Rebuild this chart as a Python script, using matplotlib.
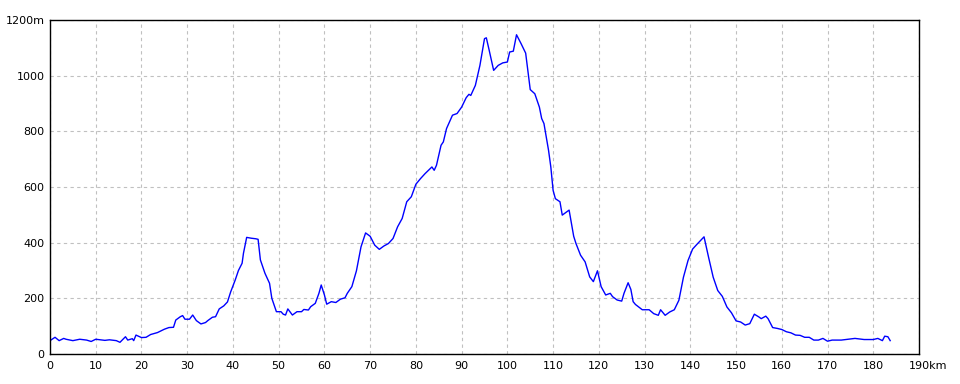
#!/usr/bin/env python3
# Elevation profile along the route (distance km vs altitude m)
import matplotlib
matplotlib.use("Agg")
import matplotlib.pyplot as plt
import matplotlib.transforms as mtransforms

# ----------------------- Data -----------------------
dist_km = [
    0, 1.1, 2, 3, 3.5, 5, 6.5, 8, 9, 10, 12, 13, 14.5, 15.3, 16.5, 17, 18, 18.3, 18.8,
    20, 21, 22, 23.5, 25, 26, 27, 27.5, 28.5, 29, 29.5, 30.5, 31.2, 32, 33, 34, 34.5,
    35.5, 36.2, 37, 38, 38.8, 39.5, 40.5, 41.2, 42, 42.3, 43, 44, 45, 45.5, 46, 47, 48,
    48.5, 49.5, 50.5, 51, 51.5, 52, 53, 54, 55, 55.5, 56.5, 57, 58, 58.8, 59.3,
    60, 60.5, 61.5, 62.5, 63.5, 64.5, 65, 66, 67, 68, 69, 70, 71, 72, 73, 74, 75, 76,
    77, 78, 79, 80, 81, 82, 83.5, 84, 84.5, 85.5, 86, 86.7, 88, 89, 90, 91, 91.6, 92,
    93, 94, 95, 95.4, 96, 97, 98, 99, 100, 100.5, 101.3, 102, 103, 104, 105, 106, 107,
    107.5, 108, 109, 109.5, 110, 110.5, 111.5, 112, 113, 113.5, 114.5, 115, 116, 117,
    118, 118.8, 119.7, 120.5, 121.5, 122.5, 123, 124, 125, 125.5, 126.4, 127, 127.5,
    128, 129.5, 131, 132, 133, 133.5, 134.5, 135.5, 136.5, 137.5, 138.5, 139.5, 140.5,
    141.5, 143, 144, 145, 146, 147, 148, 149, 150, 151, 152, 153, 154, 155, 155.5,
    156.5, 157, 158, 159, 160, 161, 162, 163, 164, 165, 166, 167, 168, 169, 170, 171,
    173, 174, 176, 178, 180, 181, 182, 182.5, 183.2, 183.7,
]
elev_m = [
    48, 60, 48, 56, 53, 48, 53, 50, 45, 53, 49, 51, 48, 42, 62, 50, 55, 48, 68,
    59, 60, 70, 77, 89, 95, 96, 122, 134, 138, 125, 125, 140, 120, 108, 113, 120,
    132, 134, 162, 173, 187, 223, 266, 300, 326, 362, 419, 416, 414, 412, 338, 290, 254,
    200, 152, 152, 143, 140, 162, 140, 152, 152, 160, 158, 170, 182, 218, 248,
    212, 179, 188, 185, 197, 202, 218, 242, 299, 385, 435, 423, 391, 376, 388, 397, 415, 457,
    487, 547, 565, 610, 630, 648, 672, 660, 678, 750, 762, 810, 858, 864, 887, 921, 933, 929,
    965, 1037, 1133, 1136, 1093, 1019, 1037, 1046, 1049, 1085, 1088, 1147, 1115, 1081, 950, 935, 887,
    846, 828, 732, 672, 588, 558, 547, 499, 511, 517, 423, 397, 355, 331,
    277, 260, 299, 242, 212, 218, 206, 194, 190, 218, 256, 232, 188,
    178, 159, 159, 145, 139, 159, 139, 151, 159, 193, 276, 336, 377,
    395, 421, 347, 276, 228, 207, 169, 148, 119, 115, 104, 109, 143, 133, 127,
    136, 127, 95, 92, 88, 80, 76, 68, 67, 60, 60, 50, 50, 56, 46, 50,
    50, 52, 56, 52, 52, 56, 48, 64, 62, 48,
]

x_ticks = list(range(0, 200, 10))
x_labels = [str(v) for v in x_ticks[:-1]] + ["190km"]
y_ticks = list(range(0, 1400, 200))
y_labels = [str(v) for v in y_ticks[:-1]] + ["1200m"]

# ----------------------- Plot -----------------------
fig = plt.figure(figsize=(9.6, 3.84), dpi=100)
ax = fig.add_axes([50 / 960, 30 / 384, 869 / 960, 334 / 384])

ax.plot(dist_km, elev_m, color="#0000ff", linewidth=1.0)

ax.set_xlim(0, 190)
ax.set_ylim(0, 1200)
ax.set_xticks(x_ticks)
ax.set_xticklabels(x_labels)
ax.set_yticks(y_ticks)
ax.set_yticklabels(y_labels)
ax.tick_params(length=0, labelsize=8)
ax.tick_params(axis="y", pad=4)
ax.tick_params(axis="x", pad=5)

# the unit on the last x label hangs to the right of the tick, number stays centred
last = ax.get_xticklabels()[-1]
last.set_transform(last.get_transform() + mtransforms.ScaledTranslation(9 / 100, 0, fig.dpi_scale_trans))

ax.grid(True, color="#c0c0c0", linestyle=(0, (3, 3)), linewidth=0.8)
ax.set_axisbelow(True)
for sp in ax.spines.values():
    sp.set_linewidth(1.0)
    sp.set_color("black")

fig.savefig("out.png", dpi=100)
